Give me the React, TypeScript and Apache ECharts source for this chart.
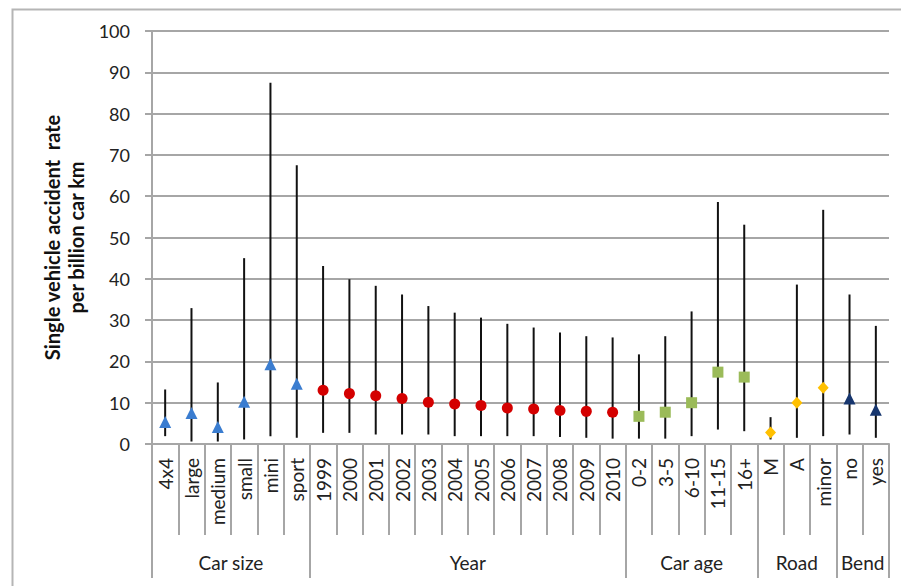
import React, { useEffect, useRef } from 'react';
import * as echarts from 'echarts';

const sizeCats = ['4x4', 'large', 'medium', 'small', 'mini', 'sport'];
const sizeMid = [5.3, 7.5, 4.1, 10.2, 19.3, 14.6];
const sizeLow = [1.9, 0.6, 0.6, 1.1, 1.9, 1.5];
const sizeHigh = [13.2, 32.9, 14.9, 45.0, 87.5, 67.5];

const yearCats = ['1999', '2000', '2001', '2002', '2003', '2004', '2005', '2006', '2007', '2008', '2009', '2010'];
const yearMid = [13.0, 12.2, 11.7, 11.0, 10.1, 9.7, 9.3, 8.7, 8.5, 8.1, 7.9, 7.7];
const yearLow = [2.7, 2.7, 2.3, 2.3, 2.3, 1.9, 1.9, 1.9, 1.9, 1.7, 1.5, 1.3];
const yearHigh = [43.1, 39.9, 38.3, 36.2, 33.4, 31.8, 30.6, 29.1, 28.2, 27.0, 26.1, 25.8];

const ageCats = ['0-2', '3-5', '6-10', '11-15', '16+'];
const ageMid = [6.7, 7.7, 10.0, 17.4, 16.2];
const ageLow = [1.3, 1.3, 1.9, 3.5, 3.1];
const ageHigh = [21.7, 26.1, 32.1, 58.6, 53.1];

const roadCats = ['M', 'A', 'minor'];
const roadMid = [2.8, 10.0, 13.6];
const roadLow = [1.1, 1.5, 1.9];
const roadHigh = [6.5, 38.6, 56.7];

const bendCats = ['no', 'yes'];
const bendMid = [11.0, 8.3];
const bendLow = [2.3, 1.5];
const bendHigh = [36.2, 28.6];

const groupNames = ['Car size', 'Year', 'Car age', 'Road', 'Bend'];

const yAxisTitle = 'Single vehicle accident  rate\nper billion car km';

const FONT = 'Lato, "Open Sans", sans-serif';
const GRID_GRAY = '#a6a6a6';
const TEXT = '#222';

export default function App() {
  const ref = useRef<HTMLDivElement | null>(null);

  useEffect(() => {
    if (!ref.current) return;
    const chart = echarts.init(ref.current, undefined, { renderer: 'svg' });

    const groups = [
      { name: groupNames[0], cats: sizeCats, mid: sizeMid, low: sizeLow, high: sizeHigh, symbol: 'triangle', color: '#3b7dd0', size: 12 },
      { name: groupNames[1], cats: yearCats, mid: yearMid, low: yearLow, high: yearHigh, symbol: 'circle', color: '#d40000', size: 11 },
      { name: groupNames[2], cats: ageCats, mid: ageMid, low: ageLow, high: ageHigh, symbol: 'rect', color: '#9bbb59', size: 11 },
      { name: groupNames[3], cats: roadCats, mid: roadMid, low: roadLow, high: roadHigh, symbol: 'diamond', color: '#ffc000', size: 12 },
      { name: groupNames[4], cats: bendCats, mid: bendMid, low: bendLow, high: bendHigh, symbol: 'triangle', color: '#17366e', size: 12 },
    ];

    const categories: string[] = [];
    const errData: number[][] = [];
    const groupAxisData: string[] = [];
    const boundaries = new Set<number>();
    let start = 0;
    groups.forEach((g) => {
      g.cats.forEach((c, i) => {
        errData.push([start + i, g.low[i], g.high[i]]);
        categories.push(c);
      });
      start += g.cats.length;
    });
    const N = categories.length;
    for (let k = 0; k <= 2 * N; k++) groupAxisData.push('');
    let s = 0;
    groups.forEach((g) => {
      boundaries.add(2 * s);
      groupAxisData[2 * s + g.cats.length] = g.name;
      s += g.cats.length;
    });
    boundaries.add(2 * N);

    const scatterSeries = groups.map((g) => ({
      type: 'scatter',
      name: g.name,
      xAxisIndex: 0,
      yAxisIndex: 0,
      symbol: g.symbol,
      symbolSize: g.symbol === 'diamond' ? [11, 12] : g.size,
      itemStyle: { color: g.color, opacity: 1 },
      z: 5,
      silent: true,
      data: g.cats.map((c, i) => [c, g.mid[i]]),
    }));

    chart.setOption({
      animation: false,
      textStyle: { fontFamily: FONT },
      graphic: [
        {
          type: 'rect',
          left: 10,
          top: 7,
          shape: { width: 900, height: 590 },
          style: { fill: 'none', stroke: '#b5b5b5', lineWidth: 2 },
          z: -10,
          silent: true,
        },
      ],
      grid: { left: 152, right: 12, top: 31, bottom: 142, containLabel: false },
      xAxis: [
        {
          type: 'category',
          data: categories,
          position: 'bottom',
          boundaryGap: true,
          axisLine: { show: true, lineStyle: { color: GRID_GRAY, width: 2 } },
          axisTick: { show: true, interval: 0, length: 91, lineStyle: { color: GRID_GRAY, width: 2 } },
          axisLabel: {
            interval: 0,
            rotate: 90,
            margin: 14,
            fontSize: 19,
            color: TEXT,
            fontFamily: FONT,
          },
          splitLine: { show: false },
        },
        {
          type: 'category',
          data: groupAxisData,
          position: 'bottom',
          offset: 0,
          boundaryGap: false,
          axisLine: { show: false },
          axisTick: {
            show: true,
            interval: (idx: number) => boundaries.has(idx),
            length: 134,
            lineStyle: { color: GRID_GRAY, width: 2 },
          },
          axisLabel: {
            interval: (_idx: number, val: string) => val !== '',
            margin: 109,
            fontSize: 19,
            color: TEXT,
            fontFamily: FONT,
          },
          splitLine: { show: false },
        },
      ],
      yAxis: {
        type: 'value',
        min: 0,
        max: 100,
        interval: 10,
        name: yAxisTitle,
        nameLocation: 'middle',
        nameRotate: 90,
        nameGap: 62,
        nameTextStyle: {
          fontSize: 20,
          fontWeight: 'bold',
          lineHeight: 24,
          color: '#111',
          fontFamily: FONT,
          align: 'center',
        },
        axisLine: { show: true, lineStyle: { color: GRID_GRAY, width: 2 } },
        axisTick: { show: true, length: 7, lineStyle: { color: GRID_GRAY, width: 2 } },
        axisLabel: { fontSize: 18, color: TEXT, margin: 22, fontFamily: FONT },
        splitLine: { show: true, lineStyle: { color: GRID_GRAY, width: 2 } },
      },
      series: [
        {
          type: 'custom',
          xAxisIndex: 0,
          yAxisIndex: 0,
          silent: true,
          z: 3,
          encode: { x: 0, y: [1, 2] },
          data: errData,
          renderItem: (_params: any, api: any) => {
            const lo = api.coord([api.value(0), api.value(1)]);
            const hi = api.coord([api.value(0), api.value(2)]);
            return {
              type: 'line',
              shape: { x1: lo[0], y1: lo[1], x2: hi[0], y2: hi[1] },
              style: { stroke: '#111', lineWidth: 2 },
            };
          },
        },
        ...scatterSeries,
      ],
    });

    return () => {
      chart.dispose();
    };
  }, []);

  return (
    <div
      ref={ref}
      style={{ position: 'absolute', left: 0, top: 0, width: 901, height: 586, background: '#fff' }}
    />
  );
}
